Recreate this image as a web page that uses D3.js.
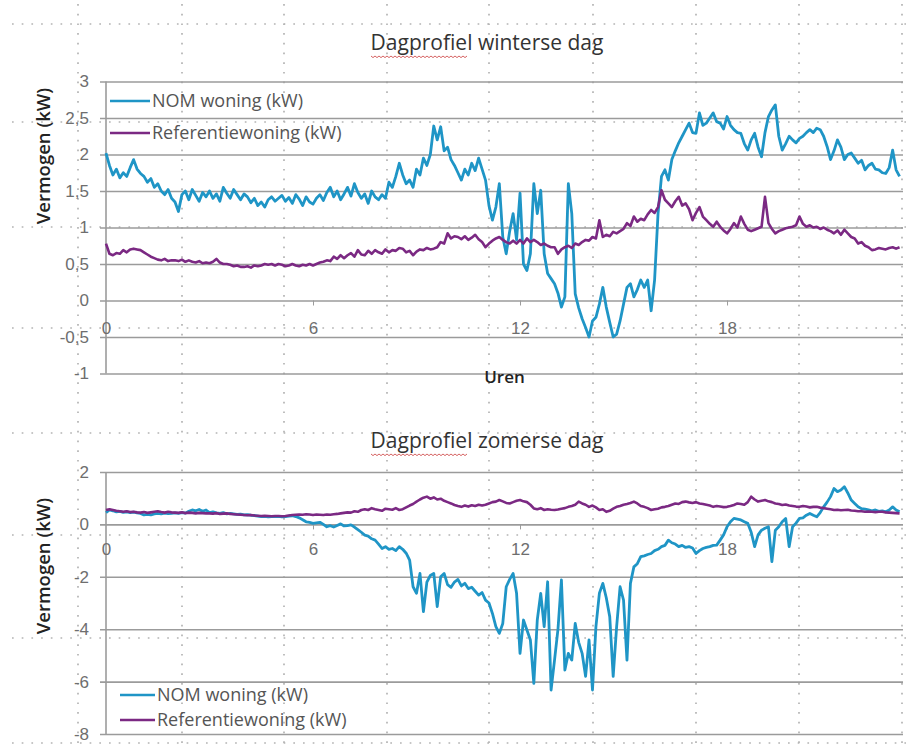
<!DOCTYPE html>
<html>
<head>
<meta charset="utf-8">
<script src="https://cdnjs.cloudflare.com/ajax/libs/d3/7.8.5/d3.min.js"></script>
<style>
  body { margin: 0; background: #fff; }
  svg { display: block; font-family: "Open Sans", "Noto Sans", sans-serif; }
  .tick text { fill: #6e6e6e; font-size: 17px; }
</style>
</head>
<body>
<svg id="chart" width="909" height="749"></svg>
<script>
// time slots: one value every 0.1 hour, starting at 0:00
const STEP = 0.1;
const X_TICKS = [0, 6, 12, 18];
const Y_TICKS_WINTER = [-1, -0.5, 0, 0.5, 1, 1.5, 2, 2.5, 3];
const Y_TICKS_SUMMER = [-8, -6, -4, -2, 0, 2];
const SERIES_NAMES = ["NOM woning (kW)", "Referentiewoning (kW)"];

// winter day, NOM woning
const WINTER_NOM = [
  2.02, 1.85, 1.72, 1.80, 1.68, 1.75, 1.70, 1.82, 1.93, 1.80,
  1.74, 1.70, 1.62, 1.67, 1.55, 1.60, 1.50, 1.45, 1.52, 1.40,
  1.35, 1.22, 1.45, 1.50, 1.38, 1.52, 1.44, 1.36, 1.48, 1.42,
  1.50, 1.40, 1.46, 1.36, 1.55, 1.47, 1.40, 1.52, 1.45, 1.38,
  1.46, 1.42, 1.34, 1.40, 1.30, 1.35, 1.28, 1.38, 1.42, 1.36,
  1.40, 1.44, 1.36, 1.41, 1.33, 1.45, 1.39, 1.30, 1.42, 1.35,
  1.32, 1.40, 1.45, 1.37, 1.48, 1.55, 1.42, 1.50, 1.38, 1.46,
  1.55, 1.43, 1.60, 1.48, 1.40, 1.46, 1.33, 1.50, 1.42, 1.38,
  1.45, 1.40, 1.62, 1.55, 1.70, 1.88, 1.72, 1.60, 1.65, 1.55,
  1.80, 1.72, 1.95, 1.85, 2.00, 2.39, 2.20, 2.38, 2.05, 2.10,
  1.93, 1.85, 1.75, 1.65, 1.80, 1.72, 1.88, 1.78, 1.95, 1.80,
  1.65, 1.30, 1.10, 1.28, 1.60, 0.87, 0.64, 0.95, 1.19, 0.83,
  1.47, 0.50, 0.41, 0.64, 1.60, 1.19, 1.51, 0.64, 0.37, 0.30,
  0.23, 0.10, -0.09, 0.05, 1.60, 1.19, 0.09, -0.10, -0.25, -0.37,
  -0.50, -0.28, -0.23, -0.05, 0.18, -0.09, -0.30, -0.50, -0.46, -0.28,
  -0.05, 0.18, 0.23, 0.05, 0.15, 0.28, 0.18, 0.28, -0.14, 0.28,
  1.19, 1.70, 1.79, 1.65, 1.93, 2.05, 2.16, 2.25, 2.34, 2.43,
  2.30, 2.29, 2.57, 2.40, 2.43, 2.50, 2.57, 2.45, 2.43, 2.35,
  2.52, 2.40, 2.34, 2.30, 2.29, 2.15, 2.06, 2.20, 2.29, 2.10,
  1.97, 2.30, 2.52, 2.61, 2.68, 2.25, 2.06, 2.15, 2.25, 2.20,
  2.16, 2.22, 2.25, 2.30, 2.34, 2.30, 2.36, 2.34, 2.25, 2.11,
  1.93, 2.05, 2.20, 2.10, 1.93, 2.00, 2.02, 1.95, 1.88, 1.92,
  1.79, 1.85, 1.88, 1.80, 1.79, 1.75, 1.74, 1.82, 2.06, 1.79,
  1.70
];

// winter day, Referentiewoning
const WINTER_REF = [
  0.78, 0.64, 0.62, 0.65, 0.64, 0.69, 0.66, 0.70, 0.71, 0.70,
  0.69, 0.66, 0.63, 0.60, 0.58, 0.56, 0.55, 0.57, 0.54, 0.55,
  0.55, 0.54, 0.56, 0.53, 0.55, 0.53, 0.52, 0.54, 0.51, 0.52,
  0.51, 0.53, 0.57, 0.52, 0.50, 0.50, 0.49, 0.47, 0.48, 0.46,
  0.46, 0.47, 0.45, 0.48, 0.47, 0.48, 0.50, 0.49, 0.50, 0.48,
  0.50, 0.49, 0.47, 0.48, 0.50, 0.48, 0.47, 0.49, 0.48, 0.50,
  0.48, 0.50, 0.52, 0.53, 0.55, 0.54, 0.60, 0.57, 0.62, 0.58,
  0.62, 0.65, 0.60, 0.69, 0.63, 0.62, 0.68, 0.64, 0.69, 0.66,
  0.64, 0.70, 0.66, 0.69, 0.68, 0.72, 0.71, 0.66, 0.68, 0.62,
  0.67, 0.70, 0.69, 0.72, 0.70, 0.71, 0.73, 0.80, 0.78, 0.92,
  0.85, 0.88, 0.87, 0.84, 0.88, 0.83, 0.86, 0.90, 0.84, 0.80,
  0.73, 0.78, 0.82, 0.85, 0.87, 0.83, 0.80, 0.78, 0.82, 0.78,
  0.83, 0.78, 0.85, 0.80, 0.83, 0.80, 0.76, 0.78, 0.75, 0.73,
  0.73, 0.64, 0.70, 0.73, 0.75, 0.72, 0.78, 0.76, 0.80, 0.83,
  0.82, 0.87, 0.85, 1.10, 0.87, 0.90, 0.88, 0.94, 0.92, 0.95,
  0.98, 1.06, 1.02, 1.15, 1.08, 1.12, 1.10, 1.18, 1.24, 1.20,
  1.28, 1.51, 1.38, 1.33, 1.28, 1.36, 1.42, 1.30, 1.33, 1.25,
  1.10, 1.20, 1.28, 1.15, 1.10, 1.05, 1.01, 1.08, 1.01, 0.96,
  0.92, 0.98, 1.06, 1.00, 1.15, 1.05, 0.97, 0.95, 0.97, 0.99,
  1.01, 1.42, 1.06, 0.98, 0.92, 0.95, 0.97, 0.99, 1.00, 1.01,
  1.03, 1.15, 1.05, 1.01, 1.03, 1.00, 1.01, 0.98, 1.00, 0.97,
  0.95, 0.92, 0.96, 0.90, 0.97, 0.92, 0.87, 0.85, 0.78, 0.80,
  0.75, 0.73, 0.69, 0.70, 0.72, 0.71, 0.70, 0.72, 0.73, 0.71,
  0.73
];

// summer day, NOM woning
const SUMMER_NOM = [
  0.45, 0.55, 0.52, 0.48, 0.50, 0.46, 0.48, 0.45, 0.47, 0.44,
  0.42, 0.36, 0.38, 0.36, 0.40, 0.42, 0.40, 0.43, 0.41, 0.42,
  0.44, 0.42, 0.45, 0.43, 0.50, 0.55, 0.52, 0.57, 0.50, 0.55,
  0.45, 0.48, 0.44, 0.42, 0.45, 0.40, 0.42, 0.40, 0.38, 0.39,
  0.36, 0.37, 0.35, 0.34, 0.32, 0.30, 0.31, 0.29, 0.30, 0.30,
  0.31, 0.29, 0.30, 0.32, 0.33, 0.30, 0.25, 0.18, 0.10, 0.08,
  0.04, 0.06, 0.08, 0.00, -0.09, -0.05, -0.10, -0.04, 0.02, -0.06,
  -0.05, -0.02, -0.10, -0.20, -0.30, -0.41, -0.45, -0.55, -0.60, -0.75,
  -0.92, -0.85, -0.95, -0.92, -1.00, -0.85, -0.95, -1.10, -1.36, -2.38,
  -2.63, -1.87, -3.33, -2.20, -1.95, -1.87, -3.14, -2.00, -1.87, -2.30,
  -2.40, -2.20, -2.10, -2.35, -2.25, -2.45, -2.40, -2.55, -2.70, -2.60,
  -2.89, -3.00, -3.40, -3.90, -4.16, -3.78, -2.38, -2.10, -1.87, -2.63,
  -4.92, -3.65, -4.03, -4.41, -6.07, -3.65, -2.63, -3.90, -2.19, -6.32,
  -5.18, -4.00, -2.12, -5.56, -4.92, -5.18, -3.78, -4.50, -4.92, -5.80,
  -4.41, -6.32, -3.90, -2.63, -2.25, -2.80, -3.52, -5.80, -3.90, -2.38,
  -2.89, -5.18, -2.25, -1.62, -1.50, -1.23, -1.20, -1.15, -1.11, -1.00,
  -0.95, -0.85, -0.80, -0.60, -0.70, -0.75, -0.85, -0.80, -0.88, -0.85,
  -0.90, -1.11, -1.00, -0.92, -0.88, -0.85, -0.80, -0.79, -0.60, -0.40,
  -0.09, 0.10, 0.23, 0.20, 0.17, 0.10, 0.04, -0.30, -0.85, -0.40,
  -0.22, -0.15, -0.09, -1.42, -0.22, -0.09, 0.10, 0.23, -0.85, -0.09,
  0.05, 0.23, 0.25, 0.35, 0.42, 0.35, 0.29, 0.45, 0.67, 0.85,
  1.06, 1.37, 1.25, 1.31, 1.44, 1.20, 0.93, 0.80, 0.67, 0.60,
  0.58, 0.55, 0.52, 0.55, 0.50, 0.52, 0.48, 0.55, 0.67, 0.55,
  0.48
];

// summer day, Referentiewoning
const SUMMER_REF = [
  0.55, 0.58, 0.55, 0.52, 0.50, 0.48, 0.50, 0.47, 0.48, 0.46,
  0.45, 0.47, 0.44, 0.46, 0.48, 0.50, 0.47, 0.45, 0.48, 0.46,
  0.45, 0.44, 0.46, 0.43, 0.45, 0.44, 0.42, 0.44, 0.43, 0.42,
  0.42, 0.41, 0.43, 0.40, 0.41, 0.42, 0.40, 0.39, 0.38, 0.37,
  0.36, 0.35, 0.36, 0.34, 0.33, 0.32, 0.33, 0.32, 0.31, 0.32,
  0.32, 0.31, 0.32, 0.34, 0.36, 0.37, 0.38, 0.37, 0.39, 0.38,
  0.36, 0.38, 0.37, 0.36, 0.38, 0.37, 0.39, 0.40, 0.42, 0.44,
  0.46, 0.45, 0.50, 0.48, 0.55, 0.58, 0.55, 0.62, 0.58, 0.55,
  0.52, 0.60, 0.58, 0.56, 0.62, 0.55, 0.58, 0.65, 0.72, 0.78,
  0.87, 0.95, 1.02, 1.06, 0.98, 1.03, 0.95, 0.98, 0.90, 0.85,
  0.80, 0.74, 0.70, 0.67, 0.72, 0.68, 0.73, 0.70, 0.75, 0.72,
  0.75, 0.80, 0.85, 0.87, 0.93, 0.88, 0.82, 0.80, 0.85, 0.90,
  0.93, 0.88, 0.85, 0.75, 0.61, 0.58, 0.62, 0.55, 0.58, 0.56,
  0.55, 0.57, 0.60, 0.62, 0.67, 0.70, 0.75, 0.87, 0.80, 0.75,
  0.67, 0.72, 0.65, 0.55, 0.58, 0.48, 0.52, 0.60, 0.67, 0.70,
  0.75, 0.78, 0.82, 0.87, 0.80, 0.70, 0.67, 0.62, 0.55, 0.58,
  0.60, 0.65, 0.67, 0.70, 0.75, 0.80, 0.78, 0.85, 0.87, 0.84,
  0.82, 0.85, 0.80, 0.78, 0.75, 0.72, 0.67, 0.70, 0.68, 0.66,
  0.67, 0.70, 0.74, 0.80, 0.78, 0.75, 0.85, 1.06, 0.95, 0.87,
  0.90, 0.93, 0.88, 0.85, 0.80, 0.78, 0.74, 0.76, 0.72, 0.70,
  0.68, 0.67, 0.70, 0.68, 0.65, 0.67, 0.67, 0.64, 0.62, 0.60,
  0.58, 0.55, 0.56, 0.54, 0.55, 0.56, 0.53, 0.52, 0.50, 0.50,
  0.48, 0.49, 0.48, 0.47, 0.48, 0.48, 0.46, 0.45, 0.44, 0.43,
  0.42
];

const COLORS = ["#1f95c6", "#7b2983"];
const LINE_WIDTHS = [2.8, 2.6];
const PLOT_LEFT = 106, PLOT_RIGHT = 903;

const svg = d3.select("#chart");

// dotted page-table lines behind the charts
const DOT_X = [78, 182, 284, 387, 489, 593, 696, 799, 902];
const DOT_Y = [24, 122, 227, 328, 433, 535, 638, 743];
const dots = svg.append("g")
    .attr("stroke", "#b4b4b4")
    .attr("stroke-width", 1.7)
    .attr("stroke-dasharray", "1.7,8");
dots.selectAll(".vdot").data(DOT_X).enter().append("line")
    .attr("x1", d => d).attr("x2", d => d)
    .attr("y1", 4).attr("y2", 749);
dots.selectAll(".hdot").data(DOT_Y).enter().append("line")
    .attr("x1", 12).attr("x2", 906)
    .attr("y1", d => d).attr("y2", d => d);

function drawChart(cfg) {
    const x = d3.scaleLinear().domain([0, 23.1]).range([PLOT_LEFT, PLOT_RIGHT]);
    const y = d3.scaleLinear().domain(cfg.yDomain).range([cfg.bottom, cfg.top]);
    const g = svg.append("g");

    // gridlines + y labels
    const yAxis = d3.axisLeft(y)
        .tickValues(cfg.yTicks)
        .tickSize(-(PLOT_RIGHT - PLOT_LEFT + 6))
        .tickPadding(11)
        .tickFormat(d => String(d).replace(".", ","));
    const ya = g.append("g")
        .attr("transform", "translate(" + (PLOT_LEFT - 6) + ",0)")
        .call(yAxis);
    ya.select(".domain").remove();
    ya.selectAll(".tick line").attr("stroke", "#9b9b9b").attr("stroke-width", 1.6);

    // vertical axis line
    g.append("line")
        .attr("x1", PLOT_LEFT).attr("x2", PLOT_LEFT)
        .attr("y1", y(cfg.yDomain[1])).attr("y2", y(cfg.yDomain[0]))
        .attr("stroke", "#9b9b9b").attr("stroke-width", 1.6);

    // x axis at zero
    const xAxis = d3.axisBottom(x)
        .tickValues(X_TICKS)
        .tickSize(5)
        .tickPadding(cfg.xPad);
    const xa = g.append("g")
        .attr("transform", "translate(0," + y(0) + ")")
        .call(xAxis);
    xa.select(".domain").remove();
    xa.selectAll(".tick line").attr("stroke", "#9b9b9b");
    xa.selectAll(".tick").filter(d => d === 0).select("line").remove();

    // lines
    const line = d3.line()
        .x((d, i) => x(i * STEP))
        .y(d => y(d));
    cfg.series.forEach((s, k) => {
        g.append("path")
            .datum(s)
            .attr("fill", "none")
            .attr("stroke", COLORS[k])
            .attr("stroke-width", LINE_WIDTHS[k])
            .attr("stroke-linejoin", "round")
            .attr("d", line);
    });

    // title
    g.append("text")
        .attr("x", 487).attr("y", cfg.titleY)
        .attr("text-anchor", "middle")
        .attr("font-size", 21)
        .attr("fill", "#333")
        .text(cfg.title);
    // red spell-check squiggle under "Dagprofiel"
    let sq = "M371," + (cfg.titleY + 6);
    for (let k = 1; k <= 48; k++) {
        sq += " L" + (371 + k * 2) + "," + (cfg.titleY + 6 + (k % 2 ? 1.6 : 0));
    }
    g.append("path").attr("d", sq).attr("fill", "none")
        .attr("stroke", "#d05050").attr("stroke-width", 0.9);

    // y title
    g.append("text")
        .attr("transform", "translate(" + cfg.yLabelX + "," + cfg.yLabelY + ") rotate(-90)")
        .attr("text-anchor", "middle")
        .attr("font-size", 18.5)
        .attr("font-weight", 600)
        .attr("fill", "#222")
        .text("Vermogen (kW)");

    if (cfg.xLabel) {
        g.append("text")
            .attr("x", (PLOT_LEFT + PLOT_RIGHT) / 2).attr("y", cfg.xLabelY)
            .attr("text-anchor", "middle")
            .attr("font-size", 17)
            .attr("font-weight", 600)
            .attr("fill", "#222")
            .text(cfg.xLabel);
    }

    // legend
    const lg = g.selectAll(".legend")
        .data(SERIES_NAMES)
        .enter().append("g")
        .attr("transform", (d, i) => "translate(" + cfg.legendX + "," + (cfg.legendY + i * cfg.legendGap) + ")");
    lg.append("line")
        .attr("x1", 0).attr("x2", cfg.legendLen)
        .attr("stroke", (d, i) => COLORS[i])
        .attr("stroke-width", 2.4);
    lg.append("text")
        .attr("x", cfg.legendLen + 2)
        .attr("dy", ".35em")
        .attr("font-size", 18)
        .attr("fill", "#555")
        .text(d => d);
}

drawChart({
    title: "Dagprofiel winterse dag", titleY: 50,
    yDomain: [-1, 3], top: 81.5, bottom: 373.5, yTicks: Y_TICKS_WINTER,
    xPad: 16, xLabel: "Uren", xLabelY: 383,
    yLabelX: 50, yLabelY: 156,
    legendX: 110, legendY: 101, legendGap: 32, legendLen: 40,
    series: [WINTER_NOM, WINTER_REF]
});

drawChart({
    title: "Dagprofiel zomerse dag", titleY: 448,
    yDomain: [-8, 2], top: 472, bottom: 734, yTicks: Y_TICKS_SUMMER,
    xPad: 14, xLabel: null,
    yLabelX: 50, yLabelY: 566,
    legendX: 120, legendY: 695, legendGap: 25, legendLen: 35,
    series: [SUMMER_NOM, SUMMER_REF]
});
</script>
</body>
</html>
